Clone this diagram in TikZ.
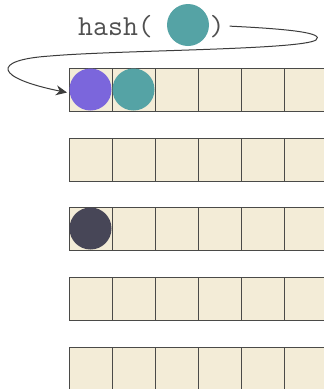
\documentclass[tikz,border=0pt]{standalone}
\usepackage{fontspec}
\usetikzlibrary{arrows.meta}
\definecolor{cellfill}{HTML}{F3ECD7}
\definecolor{cellline}{HTML}{4A4A48}
\definecolor{ballpurple}{HTML}{7B66DC}
\definecolor{ballteal}{HTML}{55A3A5}
\definecolor{balldark}{HTML}{474657}
\definecolor{txtgray}{HTML}{3C3C3C}
\definecolor{codegray}{HTML}{505050}
\begin{document}
\begin{tikzpicture}[x=1pt,y=-1pt,
  cell/.style={draw=cellline, fill=cellfill, line width=1pt, minimum size=43pt, inner sep=0pt, outer sep=0pt},
  ball/.style={circle, inner sep=0pt, outer sep=0pt, minimum size=42pt},
  code/.style={inner sep=0pt, text=codegray, font=\ttfamily\fontsize{29}{29}\selectfont},
  link/.style={draw=txtgray, line width=1pt, -{Stealth[length=11pt,width=10pt]}}]
\useasboundingbox (0,0) rectangle (324,389);
\clip (0,0) rectangle (324,389);
\fill[white] (0,0) rectangle (324,389);
\foreach \r [count=\i] in {68,138,207,277,347} {
  \foreach \c in {1,...,6} {
    \node[cell] (c\i\c) at ({69+43*(\c-1)+21.5}, {\r+21.5}) {};
  }
}
\node[ball, fill=ballpurple] (b1) at (c11) {};
\node[ball, fill=ballteal] (b2) at (c12) {};
\node[ball, fill=balldark] (b3) at (c31) {};
\node[code, anchor=base west] (hash) at (78,35) {hash(};
\node[ball, fill=ballteal] (key) at (188,25) {};
\node[code, anchor=base] (close) at (217,35) {)};
\coordinate (s) at ([xshift=5pt]close.east);
\coordinate (tip) at ([xshift=-2pt,yshift=-3pt]c11.west);
\draw[link] (s) .. controls (290,29) and (325,33) .. (316,40)
  .. controls (300,50) and (120,50) .. (50,56)
  .. controls (-10,60) and (-5,78) .. (tip);
\end{tikzpicture}
\end{document}
